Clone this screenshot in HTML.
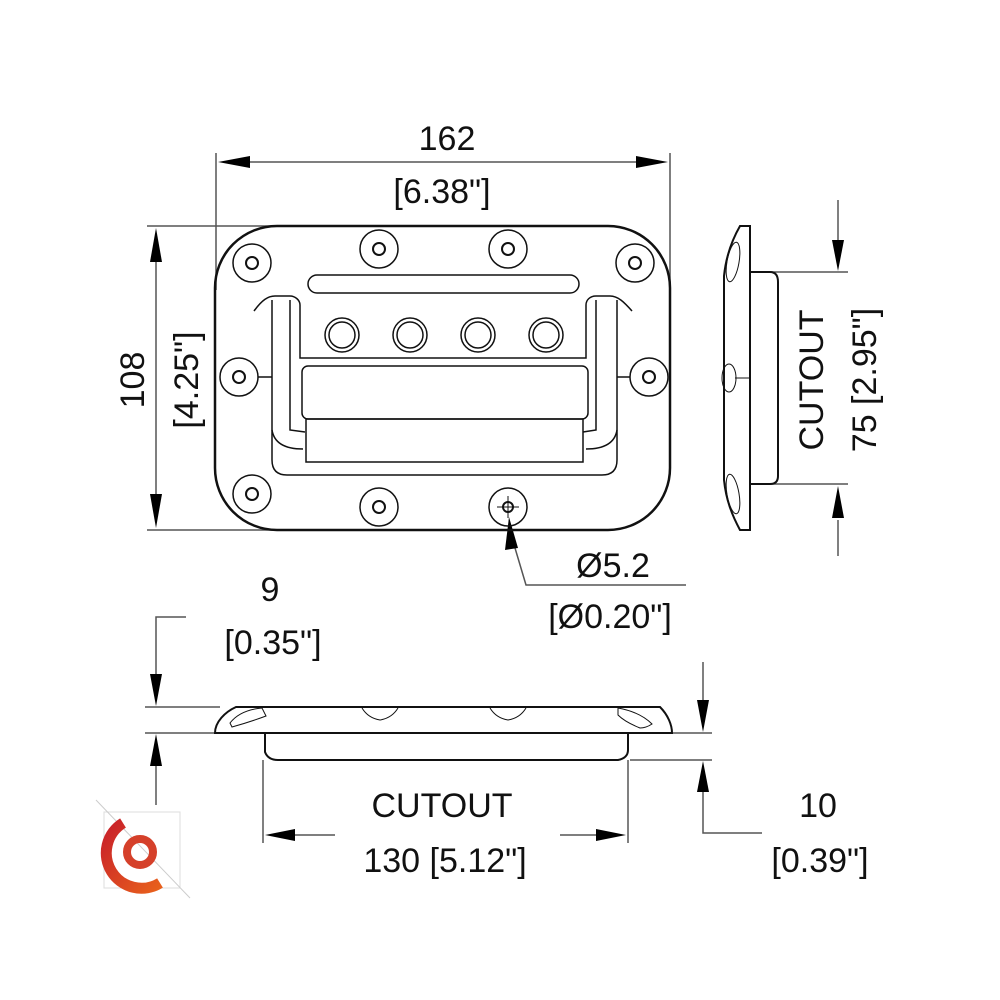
<!DOCTYPE html>
<html><head><meta charset="utf-8"><style>
html,body{margin:0;padding:0;background:#fff;}
svg{display:block;}
text{font-family:"Liberation Sans",sans-serif;font-size:34px;fill:#111;}
</style></head><body>
<svg width="1000" height="1000" viewBox="0 0 1000 1000" xmlns="http://www.w3.org/2000/svg">
<g stroke="#555" stroke-width="1.5" fill="none">
<line x1="216" y1="153" x2="216" y2="290"/>
<line x1="670" y1="153" x2="670" y2="290"/>
<line x1="245" y1="162" x2="640" y2="162"/>
<line x1="147" y1="226" x2="290" y2="226"/>
<line x1="147" y1="530" x2="290" y2="530"/>
<line x1="156" y1="255" x2="156" y2="500"/>
<line x1="750" y1="272" x2="848" y2="272"/>
<line x1="750" y1="484" x2="848" y2="484"/>
<line x1="838" y1="200" x2="838" y2="240"/>
<line x1="838" y1="520" x2="838" y2="556"/>
<polyline points="515,548 526,585 686,585"/>
<line x1="145" y1="707" x2="220" y2="707"/>
<line x1="145" y1="733" x2="220" y2="733"/>
<polyline points="186,617 156,617 156,675"/>
<line x1="156" y1="765" x2="156" y2="805"/>
<line x1="630" y1="733" x2="712" y2="733"/>
<line x1="630" y1="760" x2="712" y2="760"/>
<line x1="703" y1="662" x2="703" y2="700"/>
<polyline points="703,790 703,833 762,833"/>
<line x1="263" y1="760" x2="263" y2="843"/>
<line x1="628" y1="760" x2="628" y2="843"/>
<line x1="290" y1="835" x2="335" y2="835"/>
<line x1="560" y1="835" x2="600" y2="835"/>
</g>
<g fill="#000">
<path d="M218,162 L250,156 L250,168Z"/><path d="M668,162 L636,156 L636,168Z"/>
<path d="M156,228 L150,262 L162,262Z"/><path d="M156,528 L150,494 L162,494Z"/>
<path d="M838,271 L832,240 L844,240Z"/><path d="M838,486 L832,518 L844,518Z"/>
<path d="M509,517 L505,550 L518,548Z"/>
<path d="M156,706 L150,674 L162,674Z"/><path d="M156,734 L150,766 L162,766Z"/>
<path d="M703,732 L697,700 L709,700Z"/><path d="M703,761 L697,792 L709,792Z"/>
<path d="M265,835 L295,829 L295,841Z"/><path d="M626,835 L596,829 L596,841Z"/>
</g>
<g stroke="#111" fill="none">
<rect x="215" y="226" width="455" height="304" rx="62" stroke-width="2.5"/>
<g stroke-width="1.5">
<circle cx="252" cy="263" r="19"/><circle cx="252" cy="263" r="6" stroke-width="2"/>
<circle cx="379" cy="249" r="19"/><circle cx="379" cy="249" r="6" stroke-width="2"/>
<circle cx="508" cy="249" r="19"/><circle cx="508" cy="249" r="6" stroke-width="2"/>
<circle cx="635" cy="263" r="19"/><circle cx="635" cy="263" r="6" stroke-width="2"/>
<circle cx="239" cy="377" r="19"/><circle cx="239" cy="377" r="6" stroke-width="2"/>
<circle cx="649" cy="377" r="19"/><circle cx="649" cy="377" r="6" stroke-width="2"/>
<circle cx="252" cy="494" r="19"/><circle cx="252" cy="494" r="6" stroke-width="2"/>
<circle cx="379" cy="507" r="19"/><circle cx="379" cy="507" r="6" stroke-width="2"/>
<circle cx="508" cy="507" r="19"/><circle cx="508" cy="507" r="5" stroke-width="2"/>
<line x1="508" y1="496" x2="508" y2="518" stroke-width="1"/><line x1="497" y1="507" x2="519" y2="507" stroke-width="1"/>
<rect x="308" y="275" width="271" height="18" rx="9"/>
<circle cx="342" cy="335" r="17"/><circle cx="342" cy="335" r="13"/>
<circle cx="410" cy="335" r="17"/><circle cx="410" cy="335" r="13"/>
<circle cx="478" cy="335" r="17"/><circle cx="478" cy="335" r="13"/>
<circle cx="546" cy="335" r="17"/><circle cx="546" cy="335" r="13"/>
<path d="M254,311 C262,300 268,296 275,296 L290,296 C295,296 300,300 300,305 L300,358 L586,358 L586,305 C586,300 590,296 596,296 L610,296 C618,296 624,302 632,311"/>
<path d="M272,300 L272,460 Q272,475 287,475 L602,475 Q617,475 617,460 L617,300"/>
<line x1="272" y1="377" x2="258" y2="377"/><line x1="617" y1="377" x2="630" y2="377"/>
<path d="M290,300 L290,430 L305,432"/><path d="M596,300 L596,430 L583,432"/>
<path d="M272,430 Q275,449 303,449"/><path d="M617,430 Q614,449 586,449"/>
<rect x="302" y="366" width="286" height="53" rx="6"/>
<rect x="306" y="419" width="277" height="43"/>
</g>
<g stroke-width="2">
<path d="M750,226 L750,530 L740,530 C732,515 726,500 724,480 L724,276 C726,256 732,240 740,226Z"/>
<path d="M750,272 L770,272 Q778,272 778,282 L778,476 Q778,484 770,484 L750,484"/>
<line x1="750" y1="378" x2="735" y2="378" stroke-width="1"/>
<ellipse cx="733" cy="262" rx="6" ry="20" stroke-width="1" transform="rotate(10 733 262)"/>
<ellipse cx="733" cy="494" rx="6" ry="20" stroke-width="1" transform="rotate(-10 733 494)"/>
<ellipse cx="729" cy="378" rx="7" ry="14" stroke-width="1"/>
</g>
<g stroke-width="2">
<path d="M236,707 L660,707 C668,715 672,725 672,733 L215,733 C215,722 225,712 236,707Z"/>
<path d="M265,733 L265,752 Q268,760 278,760 L618,760 Q628,758 628,750 L628,733"/>
<path d="M230,723 Q240,710 262,708 L266,716 Q250,722 232,727Z" stroke-width="1"/>
<path d="M618,708 Q640,712 652,724 Q646,728 640,728 Q625,722 618,715Z" stroke-width="1"/>
<path d="M362,708 Q368,718 380,720 Q392,718 398,708" stroke-width="1"/>
<path d="M490,708 Q496,718 508,720 Q520,718 526,708" stroke-width="1"/>
</g>
</g>
<text x="447" y="150" text-anchor="middle">162</text>
<text x="442" y="203" text-anchor="middle">[6.38"]</text>
<text transform="translate(144,380) rotate(-90)" text-anchor="middle">108</text>
<text transform="translate(198,380) rotate(-90)" text-anchor="middle">[4.25"]</text>
<text transform="translate(823,380) rotate(-90)" text-anchor="middle">CUTOUT</text>
<text transform="translate(876,380) rotate(-90)" text-anchor="middle">75 [2.95"]</text>
<text x="613" y="577" text-anchor="middle">Ø5.2</text>
<text x="610" y="628" text-anchor="middle">[Ø0.20"]</text>
<text x="270" y="601" text-anchor="middle">9</text>
<text x="273" y="654" text-anchor="middle">[0.35"]</text>
<text x="442" y="817" text-anchor="middle">CUTOUT</text>
<text x="445" y="872" text-anchor="middle">130 [5.12"]</text>
<text x="818" y="817" text-anchor="middle">10</text>
<text x="820" y="872" text-anchor="middle">[0.39"]</text>
<defs><linearGradient id="g" x1="0" y1="0" x2="1" y2="1"><stop offset="0" stop-color="#c8202a"/><stop offset="1" stop-color="#e8601c"/></linearGradient></defs>
<rect x="104" y="812" width="76" height="76" fill="none" stroke="#ddd" stroke-width="1"/>
<line x1="96" y1="800" x2="190" y2="898" stroke="#ccc" stroke-width="1"/>
<path d="M123,823 A31,31 0 0 0 160,883" fill="none" stroke="url(#g)" stroke-width="11"/>
<circle cx="140" cy="852" r="13" fill="none" stroke="#d5402a" stroke-width="8"/>
</svg>
</body></html>
